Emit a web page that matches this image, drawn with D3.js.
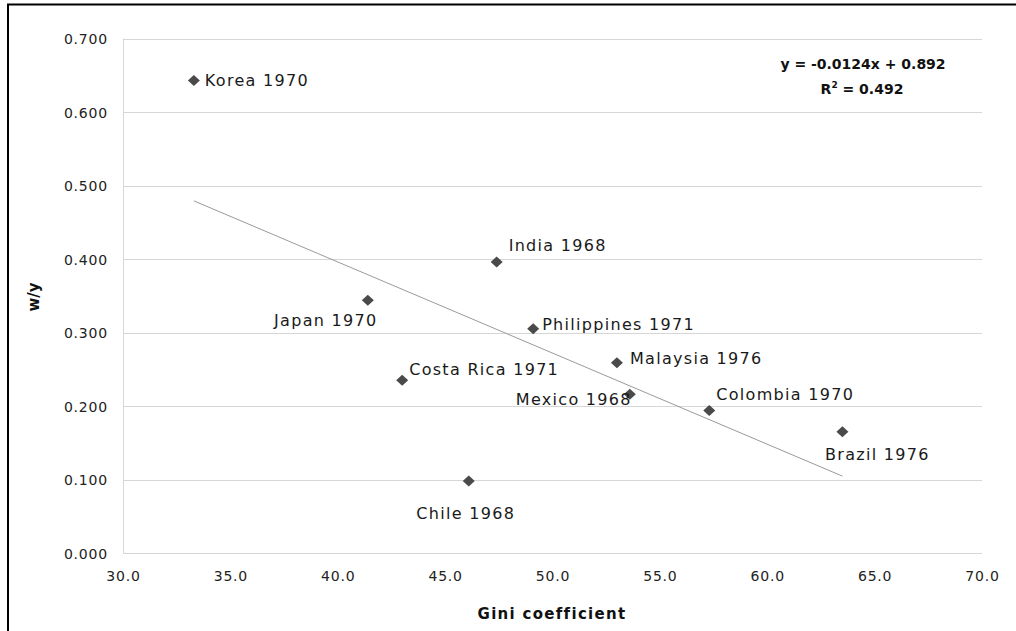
<!DOCTYPE html>
<html>
<head>
<meta charset="utf-8">
<script src="https://cdn.jsdelivr.net/npm/d3@7"></script>
<style>
  html, body { margin: 0; padding: 0; background: #fff; }
  svg { display: block; }
</style>
</head>
<body>
<svg id="chart" width="1016" height="631"></svg>
<script>
// ---- data ----
const labels = ["Korea 1970", "Japan 1970", "Costa Rica 1971", "India 1968", "Philippines 1971",
                "Malaysia 1976", "Mexico 1968", "Colombia 1970", "Brazil 1976", "Chile 1968"];
const gini   = [33.3, 41.4, 43.0, 47.4, 49.1, 53.0, 53.6, 57.3, 63.5, 46.1];
const wy     = [0.643, 0.344, 0.235, 0.396, 0.305, 0.259, 0.216, 0.194, 0.165, 0.098];
const xTicks = [30, 35, 40, 45, 50, 55, 60, 65, 70];
const yTicks = [0, 0.1, 0.2, 0.3, 0.4, 0.5, 0.6, 0.7];
const slope = -0.0124, intercept = 0.892, r2 = 0.492;

// label placement (style only)
const placement = {
  "Korea 1970":       {dx: 11, dy: 0,  anchor: "start"},
  "Japan 1970":       {dx: -42, dy: 20, anchor: "middle"},
  "Costa Rica 1971":  {dx: 7,  dy: -11, anchor: "start"},
  "India 1968":       {dx: 12, dy: -17, anchor: "start"},
  "Philippines 1971": {dx: 9,  dy: -5, anchor: "start"},
  "Malaysia 1976":    {dx: 13, dy: -4, anchor: "start"},
  "Mexico 1968":      {dx: 2,  dy: 5,  anchor: "end"},
  "Colombia 1970":    {dx: 7,  dy: -16, anchor: "start"},
  "Brazil 1976":      {dx: 35, dy: 23, anchor: "middle"},
  "Chile 1968":       {dx: -3, dy: 32, anchor: "middle"}
};

const svg = d3.select("#chart");
const L = 123, R = 982, T = 38.5, B = 553;
const x = d3.scaleLinear().domain([30, 70]).range([L, R]);
const y = d3.scaleLinear().domain([0, 0.7]).range([B, T]);
const font = "'DejaVu Sans', Verdana, sans-serif";

// outer frame (left and top)
svg.append("path").attr("d", "M8,631 L8,4.5 L1016,4.5")
  .attr("fill", "none").attr("stroke", "#000").attr("stroke-width", 2);

// gridlines
svg.append("g").selectAll("line").data(yTicks).join("line")
  .attr("x1", L).attr("x2", R)
  .attr("y1", d => Math.round(y(d)) + 0.5).attr("y2", d => Math.round(y(d)) + 0.5)
  .attr("stroke", "#d6d6d6").attr("stroke-width", 1);
// left axis line
svg.append("line").attr("x1", L + 0.5).attr("x2", L + 0.5).attr("y1", T).attr("y2", B)
  .attr("stroke", "#d6d6d6");

// y axis
const yAxis = svg.append("g").attr("transform", `translate(${L - 15},0)`)
  .call(d3.axisLeft(y).tickValues(yTicks).tickFormat(d3.format(".3f")).tickSize(0).tickPadding(0));
yAxis.select(".domain").remove();
yAxis.selectAll("text").attr("font-family", font).attr("font-size", 14)
  .attr("letter-spacing", 0.8).attr("fill", "#222").attr("dy", "0.38em");

// x axis
const xAxis = svg.append("g").attr("transform", `translate(0,${B + 18})`)
  .call(d3.axisBottom(x).tickValues(xTicks).tickFormat(d3.format(".1f")).tickSize(0).tickPadding(0));
xAxis.select(".domain").remove();
xAxis.selectAll("text").attr("font-family", font).attr("font-size", 14)
  .attr("letter-spacing", 0.8).attr("fill", "#222").attr("dy", "0.71em");

// axis titles
svg.append("text").attr("x", 552).attr("y", 619).attr("text-anchor", "middle")
  .attr("font-family", font).attr("font-weight", "bold").attr("font-size", 15)
  .attr("letter-spacing", 1.3).attr("fill", "#111").text("Gini coefficient");
svg.append("text").attr("transform", "translate(39,297) rotate(-90)").attr("text-anchor", "middle")
  .attr("font-family", font).attr("font-weight", "bold").attr("font-size", 15)
  .attr("fill", "#111").text("w/y");

// trend line
const xmin = d3.min(gini), xmax = d3.max(gini);
svg.append("line")
  .attr("x1", x(xmin)).attr("y1", y(slope * xmin + intercept))
  .attr("x2", x(xmax)).attr("y2", y(slope * xmax + intercept))
  .attr("stroke", "#9a9a9a").attr("stroke-width", 1);

// points
const pts = labels.map((l, i) => ({label: l, gx: gini[i], wy: wy[i]}));
svg.append("g").selectAll("path").data(pts).join("path")
  .attr("transform", d => `translate(${x(d.gx)},${y(d.wy)})`)
  .attr("d", "M0,-5.5 L6,0 L0,5.5 L-6,0Z")
  .attr("fill", "#4a4a4a");

// labels
svg.append("g").selectAll("text").data(pts).join("text")
  .attr("x", d => x(d.gx) + placement[d.label].dx)
  .attr("y", d => y(d.wy) + placement[d.label].dy)
  .attr("dy", "0.36em")
  .attr("text-anchor", d => placement[d.label].anchor)
  .attr("font-family", font).attr("font-size", 16).attr("letter-spacing", 1.3)
  .attr("fill", "#1a1a1a")
  .text(d => d.label);

// equation
const eq = svg.append("text").attr("x", 863).attr("y", 69).attr("text-anchor", "middle")
  .attr("font-family", font).attr("font-weight", "bold").attr("font-size", 14).attr("fill", "#111");
eq.text(`y = ${slope.toFixed(4)}x + ${intercept.toFixed(3)}`);
const r = svg.append("text").attr("x", 862).attr("y", 94).attr("text-anchor", "middle")
  .attr("font-family", font).attr("font-weight", "bold").attr("font-size", 14).attr("fill", "#111");
r.append("tspan").text("R");
r.append("tspan").attr("dy", -6).attr("font-size", 9).text("2");
r.append("tspan").attr("dy", 6).text(` = ${r2.toFixed(3)}`);
</script>
</body>
</html>
